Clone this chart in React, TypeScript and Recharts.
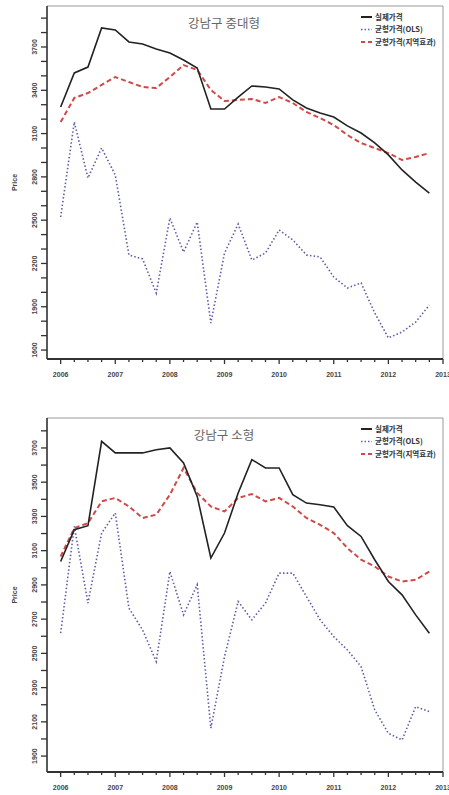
import { LineChart, Line, XAxis, YAxis, ReferenceArea } from 'recharts';

// quarterly observations, 2006Q1 .. 2012Q4
const QUARTERS = [
  2006, 2006.25, 2006.5, 2006.75, 2007, 2007.25, 2007.5, 2007.75,
  2008, 2008.25, 2008.5, 2008.75, 2009, 2009.25, 2009.5, 2009.75,
  2010, 2010.25, 2010.5, 2010.75, 2011, 2011.25, 2011.5, 2011.75,
  2012, 2012.25, 2012.5, 2012.75,
];
const X_TICKS = [...QUARTERS, 2013];

// 강남구 중대형
const LARGE_ACTUAL = [
  3284, 3520, 3561, 3832, 3818, 3735, 3721, 3686, 3658, 3610, 3554, 3270, 3270, 3353,
  3430, 3423, 3409, 3333, 3277, 3243, 3215, 3153, 3104, 3035, 2952, 2848, 2764, 2688,
];
const LARGE_OLS = [
  2522, 3180, 2792, 3000, 2813, 2259, 2231, 1995, 2515, 2279, 2487, 1787, 2272, 2473,
  2224, 2272, 2432, 2363, 2259, 2245, 2106, 2030, 2065, 1857, 1684, 1725, 1794, 1912,
];
const LARGE_REGIONAL = [
  3180, 3347, 3381, 3437, 3492, 3457, 3423, 3416, 3492, 3575, 3541, 3402, 3326, 3333,
  3340, 3312, 3353, 3312, 3250, 3208, 3159, 3090, 3035, 3000, 2965, 2917, 2938, 2965,
];
const LARGE_Y_TICKS = [
  1600, 1700, 1800, 1900, 2000, 2100, 2200, 2300, 2400, 2500, 2600, 2700,
  2800, 2900, 3000, 3100, 3200, 3300, 3400, 3500, 3600, 3700, 3800, 3900,
];
const LARGE_Y_LABELS = [1600, 1900, 2200, 2500, 2800, 3100, 3400, 3700];

// 강남구 소형
const SMALL_ACTUAL = [
  3037, 3222, 3246, 3739, 3671, 3671, 3671, 3690, 3700, 3612, 3417, 3057, 3203, 3437,
  3632, 3583, 3583, 3427, 3378, 3368, 3355, 3246, 3183, 3047, 2920, 2842, 2725, 2618,
];
const SMALL_OLS = [
  2618, 3242, 2794, 3203, 3320, 2764, 2637, 2452, 2978, 2725, 2901, 2063, 2481, 2803,
  2696, 2794, 2969, 2969, 2832, 2696, 2598, 2520, 2423, 2170, 2033, 1994, 2189, 2160,
];
const SMALL_REGIONAL = [
  3066, 3232, 3261, 3388, 3408, 3358, 3291, 3310, 3427, 3583, 3437, 3358, 3329, 3408,
  3431, 3388, 3408, 3358, 3291, 3251, 3203, 3115, 3047, 3008, 2949, 2920, 2930, 2978,
];
const SMALL_Y_TICKS = [
  1900, 2000, 2100, 2200, 2300, 2400, 2500, 2600, 2700, 2800,
  2900, 3000, 3100, 3200, 3300, 3400, 3500, 3600, 3700, 3800,
];
const SMALL_Y_LABELS = [1900, 2100, 2300, 2500, 2700, 2900, 3100, 3300, 3500, 3700];

const SERIES_NAMES = ['실제가격', '균형가격(OLS)', '균형가격(지역효과)'];

const BLACK = '#222222';
const BLUE = '#5d5fa6';
const RED = '#d24848';
const KR_FONT = '"Noto Sans CJK KR", "Noto Sans", sans-serif';
const AXIS_FONT = 'Arial, "Liberation Sans", sans-serif';

const XTick = ({ x, y, payload }: any) => {
  const major = Number.isInteger(payload.value);
  return (
    <g>
      <line x1={x} x2={x} y1={y} y2={y + (major ? 5 : 3)} stroke="#333" strokeWidth={1.3} />
      {major && (
        <text x={x} y={y + 18} textAnchor="middle" fontSize={7} fontWeight="bold"
          fontFamily={AXIS_FONT} fill="#444">
          {payload.value}
        </text>
      )}
    </g>
  );
};

const makeYTick = (labels: number[]) => ({ x, y, payload }: any) => (
  <g>
    <line x1={x} x2={x - 6} y1={y} y2={y} stroke="#333" strokeWidth={1.3} />
    {labels.includes(payload.value) && (
      <text x={x - 10} y={y} transform={`rotate(-90 ${x - 10} ${y})`} textAnchor="middle"
        fontSize={7} fontWeight="bold" fontFamily={AXIS_FONT} fill="#444">
        {payload.value}
      </text>
    )}
  </g>
);

interface PanelProps {
  top: number;
  title: string;
  titleY: number;
  legendY: number;
  marginTop: number;
  xAxisHeight: number;
  actual: number[];
  ols: number[];
  regional: number[];
  yDomain: [number, number];
  yTicks: number[];
  yLabels: number[];
}

function Panel(p: PanelProps) {
  const data = QUARTERS.map((t, i) => ({
    t,
    actual: p.actual[i],
    ols: p.ols[i],
    regional: p.regional[i],
  }));
  const height = 395;
  const plotMid = (p.marginTop + (height - p.xAxisHeight)) / 2;
  const legendRows = [
    { color: BLACK, dash: undefined, width: 2 },
    { color: BLUE, dash: '1.5 2', width: 1.5 },
    { color: RED, dash: '4 3', width: 2 },
  ];

  return (
    <div style={{ position: 'absolute', left: 0, top: p.top, width: 449, height }}>
      <LineChart width={449} height={height} data={data}
        margin={{ top: p.marginTop, right: 6, bottom: 0, left: 0 }}>
        <XAxis dataKey="t" type="number" domain={[2005.75, 2013]} ticks={X_TICKS}
          interval={0} height={p.xAxisHeight} tickSize={0} tickMargin={0}
          axisLine={{ stroke: '#333', strokeWidth: 2 }} tickLine={false} tick={<XTick />} />
        <YAxis type="number" domain={p.yDomain} ticks={p.yTicks} interval={0} width={47}
          allowDataOverflow tickSize={0} tickMargin={0}
          axisLine={{ stroke: '#333', strokeWidth: 1.5 }} tickLine={false}
          tick={makeYTick(p.yLabels)} />
        <ReferenceArea x1={2005.75} x2={2013} y1={p.yDomain[0]} y2={p.yDomain[1]}
          fill="none" stroke="#9a9a9a" strokeWidth={1} ifOverflow="visible" />
        <Line type="linear" dataKey="ols" stroke={BLUE} strokeWidth={1.6}
          strokeDasharray="1.5 2.2" dot={false} isAnimationActive={false} />
        <Line type="linear" dataKey="regional" stroke={RED} strokeWidth={2}
          strokeDasharray="5 3" dot={false} isAnimationActive={false} />
        <Line type="linear" dataKey="actual" stroke={BLACK} strokeWidth={1.6}
          dot={false} isAnimationActive={false} />
      </LineChart>
      <svg width={449} height={height}
        style={{ position: 'absolute', left: 0, top: 0, pointerEvents: 'none' }}>
        <text x={224} y={p.titleY} textAnchor="middle" fontSize={12.5}
          fontFamily={KR_FONT} fill="#666">
          {p.title}
        </text>
        <text x={17} y={plotMid} transform={`rotate(-90 17 ${plotMid})`} textAnchor="middle"
          fontSize={7} fontWeight="bold" fontFamily={AXIS_FONT} fill="#444">
          Price
        </text>
        {SERIES_NAMES.map((name, i) => (
          <g key={name}>
            <line x1={361} x2={372} y1={p.legendY + i * 12.5} y2={p.legendY + i * 12.5}
              stroke={legendRows[i].color} strokeWidth={legendRows[i].width}
              strokeDasharray={legendRows[i].dash} />
            <text x={375} y={p.legendY + i * 12.5 + 2.5} fontSize={7.5} fontWeight="bold"
              fontFamily={KR_FONT} fill="#333">
              {name}
            </text>
          </g>
        ))}
      </svg>
    </div>
  );
}

export default function App() {
  return (
    <div style={{ position: 'absolute', left: 0, top: 0, width: 449, height: 795, background: '#fff' }}>
      <Panel top={0} title="강남구 중대형" titleY={28} legendY={17} marginTop={6} xAxisHeight={36}
        actual={LARGE_ACTUAL} ols={LARGE_OLS} regional={LARGE_REGIONAL}
        yDomain={[1538, 3984]} yTicks={LARGE_Y_TICKS} yLabels={LARGE_Y_LABELS} />
      <Panel top={400} title="강남구 소형" titleY={40} legendY={29} marginTop={18} xAxisHeight={23}
        actual={SMALL_ACTUAL} ols={SMALL_OLS} regional={SMALL_REGIONAL}
        yDomain={[1807, 3875]} yTicks={SMALL_Y_TICKS} yLabels={SMALL_Y_LABELS} />
    </div>
  );
}
